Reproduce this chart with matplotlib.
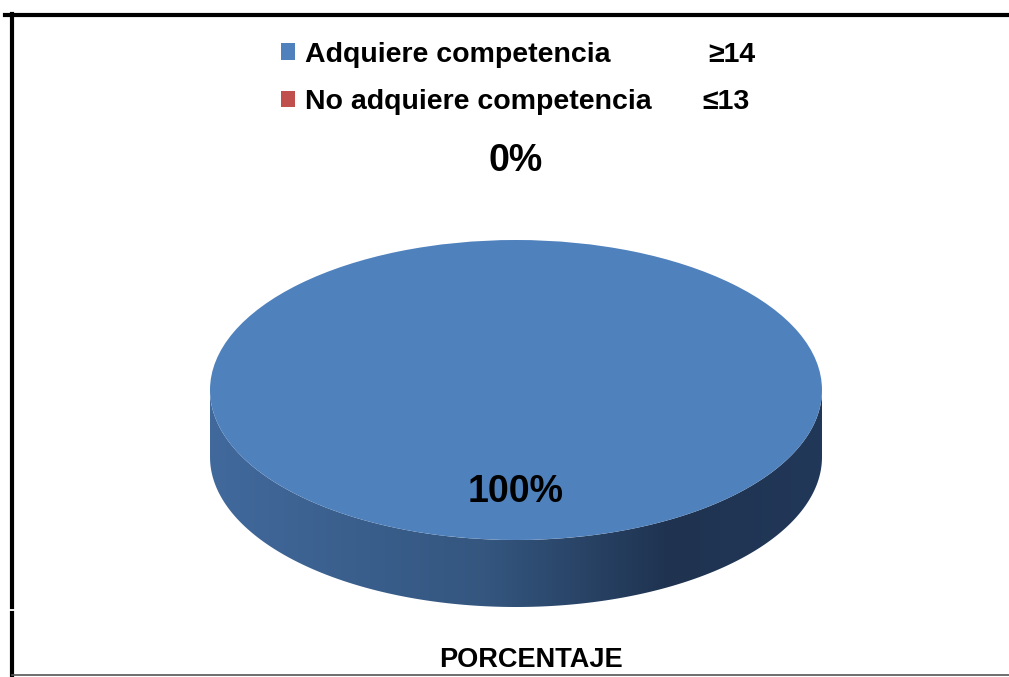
import numpy as np
import matplotlib.pyplot as plt
from matplotlib.colors import LinearSegmentedColormap
from matplotlib.lines import Line2D
from matplotlib.patches import Polygon

labels = ['Adquiere competencia', 'No adquiere competencia']
thresholds = ['\u226514', '\u226413']
values = [100, 0]
colors = ['#4F81BD', '#C0504D']
axis_title = 'PORCENTAJE'

sans = ['Liberation Sans', 'DejaVu Sans']

W, H = 1009, 677
fig = plt.figure(figsize=(W / 100, H / 100), dpi=100)

# pie centre and radii in pixels (from top-left)
cx, cy = 516, 390
rx, ry = 306, 150
depth = 67 / ry

ax = fig.add_axes([0, 0, 1, 1])

# side of the 3d disc with a horizontal gradient
t = np.linspace(0, np.pi, 200)
top_edge = np.column_stack([np.cos(t), -np.sin(t)])
low_edge = np.column_stack([np.cos(t[::-1]), -np.sin(t[::-1]) - depth])
side = Polygon(np.vstack([top_edge, low_edge]), closed=True, facecolor='none', edgecolor='none')
ax.add_patch(side)
cmap = LinearSegmentedColormap.from_list('side', [(0, '#41699C'), (0.45, '#34567F'),
                                                 (0.75, '#1F3350'), (1, '#223859')])
grad = np.linspace(0, 1, 256).reshape(1, -1)
im = ax.imshow(grad, cmap=cmap, extent=(-1, 1, -1 - depth, 0), aspect='auto', zorder=1)
im.set_clip_path(side)

wedges, _ = ax.pie(values, colors=colors, startangle=90, counterclock=False,
                   radius=1, frame=True, wedgeprops=dict(linewidth=0, zorder=2))
ax.set_xlim(-cx / rx, (W - cx) / rx)
ax.set_ylim(-(H - cy) / ry, cy / ry)
ax.set_aspect('auto')
ax.axis('off')

# data labels
total = sum(values)
for w, v in zip(wedges, values):
    mid = np.deg2rad((w.theta1 + w.theta2) / 2)
    dist = 0.68 if v > 0 else 1.53
    ax.text(dist * np.cos(mid), dist * np.sin(mid), f'{v / total:.0%}',
            ha='center', va='center', fontsize=27, fontweight='bold',
            family=sans, zorder=5)

# legend
leg = fig.legend(wedges, labels, loc='upper left', bbox_to_anchor=(255 / W, 1 - 16 / H),
                 frameon=False, handlelength=0.5, handleheight=0.5, handletextpad=0.35,
                 labelspacing=0.75, prop=dict(family=sans, weight='bold', size=20.5))
fig.canvas.draw()
inv = fig.transFigure.inverted()
for txt, thr, xpx in zip(leg.get_texts(), thresholds, [708, 702]):
    bb = txt.get_window_extent()
    yc = inv.transform((0, (bb.y0 + bb.y1) / 2))[1]
    fig.text(xpx / W, yc, thr, ha='left', va='center', fontsize=20.5,
             fontweight='bold', family=sans)

fig.text(531 / W, 1 - 660 / H, axis_title, ha='center', va='center', fontsize=19.5,
         fontweight='bold', family=sans)

# frame lines
fig.add_artist(Line2D([5 / W, 1], [1 - 15 / H, 1 - 15 / H], color='black', lw=3))
fig.add_artist(Line2D([12 / W, 12 / W], [1 - 14 / H, 1 - 607 / H], color='black', lw=3))
fig.add_artist(Line2D([12 / W, 12 / W], [1 - 613 / H, 0], color='black', lw=3))
fig.add_artist(Line2D([12 / W, 1], [1 - 675 / H, 1 - 675 / H], color='#555555', lw=1.2))

fig.savefig('out.png', dpi=100)
